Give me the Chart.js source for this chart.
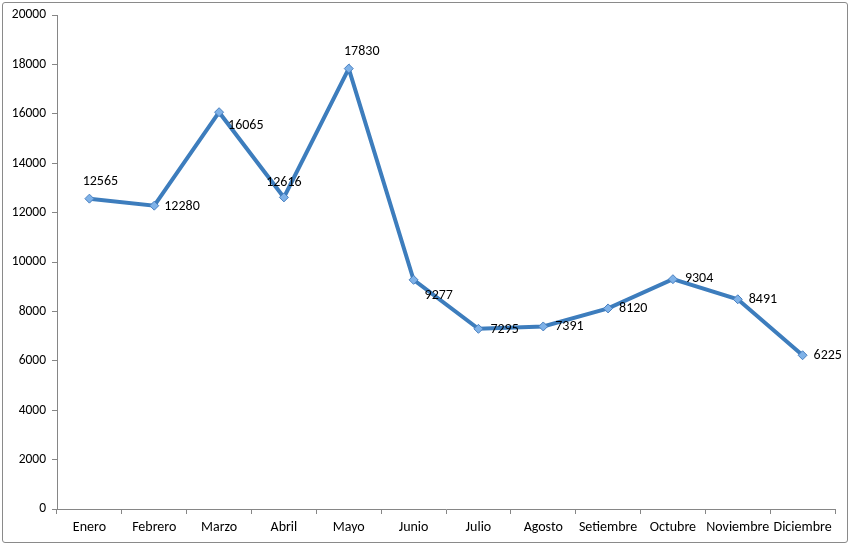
<!DOCTYPE html>
<html>
<head>
<meta charset="utf-8">
<script src="https://cdn.jsdelivr.net/npm/chart.js@4/dist/chart.umd.min.js"></script>
<style>
  html, body { margin: 0; padding: 0; background: #fff; }
  #wrap { position: relative; width: 852px; height: 547px; }
  #frame {
    position: absolute; left: 2px; top: 2px; width: 844px; height: 539px;
    border: 1px solid #8a8a8a; border-radius: 3px;
  }
  canvas { position: absolute; left: 0; top: 0; }
</style>
</head>
<body>
<div id="wrap">
  <div id="frame"></div>
  <canvas id="salesChart" width="852" height="547"></canvas>
</div>
<script>
// Chart data
const months = ['Enero', 'Febrero', 'Marzo', 'Abril', 'Mayo', 'Junio', 'Julio',
    'Agosto', 'Setiembre', 'Octubre', 'Noviembre', 'Diciembre'];
const values = [12565, 12280, 16065, 12616, 17830, 9277, 7295, 7391, 8120, 9304, 8491, 6225];
const yTicks = [0, 2000, 4000, 6000, 8000, 10000, 12000, 14000, 16000, 18000, 20000];

const FONT = 'Carlito, Calibri, Lato, sans-serif';

// Where each value label sits relative to its point (dx, dy, text align)
const labelPlacement = [
    [11, -17, 'center'], [10, 1, 'left'], [9, 13, 'left'], [0, -15, 'center'],
    [13, -17, 'center'], [11, 16, 'left'], [12, 1, 'left'], [12, 0, 'left'],
    [11, 0, 'left'], [12, -1, 'left'], [11, 0, 'left'], [11, 0, 'left']
];

// Draw the value next to each point
const valueLabels = {
    id: 'valueLabels',
    afterDatasetsDraw(chart) {
        const ctx = chart.ctx;
        const meta = chart.getDatasetMeta(0);
        ctx.save();
        ctx.font = '14px ' + FONT;
        ctx.fillStyle = '#000';
        ctx.textBaseline = 'middle';
        meta.data.forEach((pt, i) => {
            const p = labelPlacement[i];
            ctx.textAlign = p[2];
            ctx.fillText(String(values[i]), pt.x + p[0], pt.y + p[1]);
        });
        ctx.restore();
    }
};

new Chart(document.getElementById('salesChart'), {
    type: 'line',
    data: {
        labels: months,
        datasets: [{
            data: values,
            borderColor: '#3d7dbd',
            borderWidth: 4,
            tension: 0,
            pointStyle: 'rectRot',
            pointRadius: 4.5,
            pointHoverRadius: 4.5,
            pointBackgroundColor: '#7fb2e8',
            pointBorderColor: '#4a80c0',
            pointBorderWidth: 1
        }]
    },
    options: {
        responsive: false,
        animation: false,
        layout: { padding: { left: 0, top: 15, right: 17, bottom: 0 } },
        plugins: {
            legend: { display: false },
            tooltip: { enabled: false }
        },
        scales: {
            x: {
                offset: true,
                grid: {
                    offset: true,
                    drawOnChartArea: false,
                    color: '#868686',
                    tickLength: 5
                },
                border: { color: '#868686', width: 1 },
                ticks: {
                    color: '#000',
                    font: { family: FONT, size: 14 },
                    padding: 5,
                    maxRotation: 0,
                    autoSkip: false
                },
                afterFit(scale) { scale.height = 38; }
            },
            y: {
                min: 0,
                max: 20000,
                afterBuildTicks(scale) {
                    scale.ticks = yTicks.map(v => ({ value: v }));
                },
                grid: {
                    drawOnChartArea: false,
                    color: '#868686',
                    tickLength: 5
                },
                border: { color: '#868686', width: 1 },
                ticks: {
                    color: '#000',
                    font: { family: FONT, size: 13.5 },
                    padding: 6,
                    callback: v => String(v)
                },
                afterFit(scale) { scale.width = 57; }
            }
        }
    },
    plugins: [valueLabels]
});
</script>
</body>
</html>
